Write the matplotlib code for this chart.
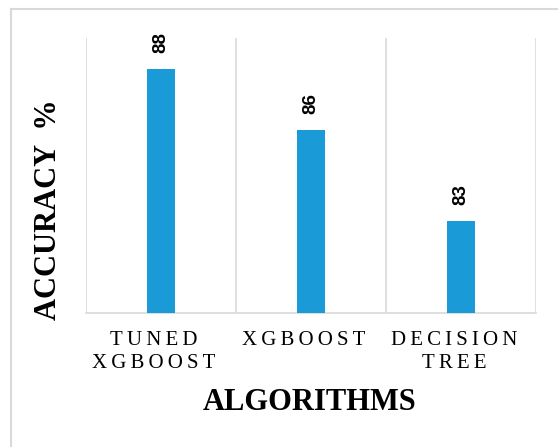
import matplotlib.pyplot as plt
from matplotlib.lines import Line2D
from matplotlib.transforms import ScaledTranslation

TS = '\u2009'  # thin space used as letter spacing
algorithms = ['TUNED\nXGBOOST', 'XGBOOST', 'DECISION\nTREE']
accuracy = [88, 86, 83]

bar_color = '#1a9ad6'
grid_color = '#d9d9d9'


def spaced(s):
    return '\n'.join(TS.join(line) for line in s.split('\n'))


fig = plt.figure(figsize=(5.58, 4.47), dpi=100)
ax = fig.add_axes([86 / 558, 1 - 313 / 447, 450 / 558, 275 / 447])

# outer frame, only top and left edges are visible in the picture
fig.add_artist(Line2D([11 / 558, 1], [1 - 9 / 447] * 2, transform=fig.transFigure,
                      color=grid_color, linewidth=1.5))
fig.add_artist(Line2D([11 / 558] * 2, [0, 1 - 9 / 447], transform=fig.transFigure,
                      color=grid_color, linewidth=1.5))

x = range(len(algorithms))
ax.bar(x, accuracy, width=0.19, color=bar_color, zorder=3)
for i, v in zip(x, accuracy):
    ax.annotate(str(v), (i, v), xytext=(0, 16), textcoords='offset pixels',
                rotation=90, ha='center', va='bottom', fontsize=13.5,
                fontweight='bold', family='Liberation Sans')

ax.set_xlim(-0.5, len(algorithms) - 0.5)
ax.set_ylim(80, 89)
for b in [i - 0.5 for i in range(len(algorithms) + 1)]:
    ax.axvline(b, color=grid_color, linewidth=1.2, zorder=1)

for s in ax.spines.values():
    s.set_visible(False)
ax.spines['bottom'].set_visible(True)
ax.spines['bottom'].set_color(grid_color)
ax.spines['bottom'].set_linewidth(1.2)

ax.set_yticks([])
ax.set_xticks(list(x))
ax.set_xticklabels([spaced(a) for a in algorithms],
                   family=['Liberation Serif', 'DejaVu Serif'], fontsize=15,
                   linespacing=1.3)
ax.tick_params(axis='x', length=0, pad=13)
# labels sit a little left of the bar centres in the original
shift = ScaledTranslation(-7 / 100, 0, fig.dpi_scale_trans)
for lbl in ax.get_xticklabels():
    lbl.set_transform(lbl.get_transform() + shift)

ax.set_xlabel('ALGORITHMS', family='Liberation Serif', fontsize=22,
              fontweight='bold')
ax.xaxis.set_label_coords(0.497, -0.324)
ax.set_ylabel('ACCURACY  %', family='Liberation Serif', fontsize=22,
              fontweight='bold')
ax.yaxis.set_label_coords(-0.084, 0.375)
ax.yaxis.label.set_va('center')
ax.xaxis.label.set_va('center')

fig.savefig('out.png', dpi=100)
